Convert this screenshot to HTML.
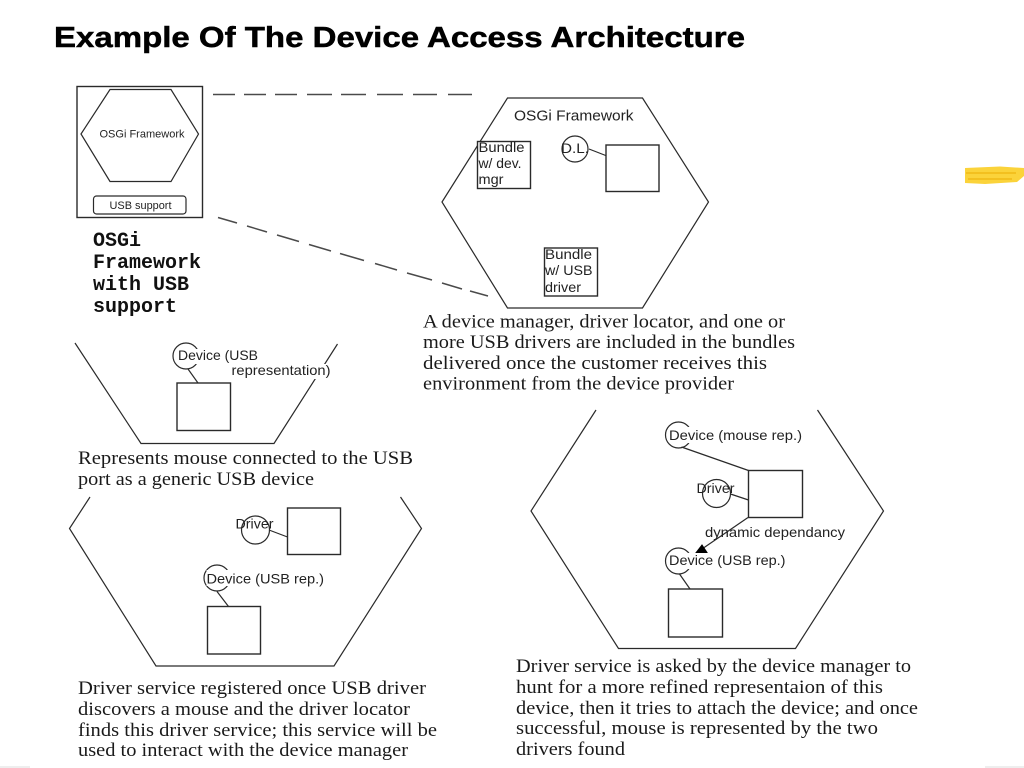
<!DOCTYPE html>
<html>
<head>
<meta charset="utf-8">
<title>Example Of The Device Access Architecture</title>
<style>
html,body{margin:0;padding:0;background:#fff;width:1024px;height:768px;overflow:hidden}
svg{display:block}
.l{fill:none;stroke:#2a2a2a;stroke-width:1.2}
.b{fill:#fff;stroke:#2a2a2a;stroke-width:1.4}
.d{fill:none;stroke:#4a4a4a;stroke-width:1.5}
.s{font-family:"Liberation Sans",Arial,sans-serif;font-size:14px;fill:#222}
.t{font-family:"Liberation Serif","Times New Roman",serif;font-size:18.5px;fill:#1a1a1a}
.m{font-family:"Liberation Mono","DejaVu Sans Mono",monospace;font-size:20px;font-weight:bold;fill:#111}
</style>
</head>
<body>
<svg width="1024" height="768" viewBox="0 0 1024 768" xmlns="http://www.w3.org/2000/svg">
<rect width="1024" height="768" fill="#fff"/>

<text x="54" y="47" font-family="'Liberation Sans',Arial,sans-serif" font-weight="bold" font-size="29px" fill="#000" stroke="#000" stroke-width="0.5" textLength="691" lengthAdjust="spacingAndGlyphs">Example Of The Device Access Architecture</text>

<!-- highlight -->
<path d="M965 168 L1000 166.5 L1024 168 L1024 176 L1017 182 L985 184 L965 183 Z" fill="#fbd33a"/>
<rect x="966" y="172" width="50" height="2" fill="#f3c01f"/>
<rect x="968" y="178" width="44" height="2" fill="#f3c01f"/>
<rect x="0" y="766" width="30" height="2" fill="#eee"/>
<rect x="985" y="766" width="39" height="2" fill="#eee"/>

<!-- small framework box -->
<rect x="77" y="86.5" width="125.5" height="131" class="b"/>
<path d="M81 134 L110 89.5 L171 89.5 L198.5 134 L171 181.5 L110 181.5 Z" class="l"/>
<rect x="93.5" y="196" width="92.5" height="18" rx="3" class="l"/>
<text x="99.5" y="137.5" class="s" style="font-size:11px" textLength="85" lengthAdjust="spacingAndGlyphs">OSGi Framework</text>
<text x="109.5" y="209" class="s" style="font-size:11px" textLength="62" lengthAdjust="spacingAndGlyphs">USB support</text>

<text x="93" y="246" class="m">OSGi</text>
<text x="93" y="268" class="m">Framework</text>
<text x="93" y="290" class="m">with USB</text>
<text x="93" y="312" class="m">support</text>

<!-- dashes -->
<path class="d" d="M213 94.5H235M244 94.5H266M275 94.5H297M307 94.5H332M341 94.5H366M377 94.5H403M413 94.5H437M448 94.5H472"/>
<path class="d" d="M218 217.5L237 223M247 226L267 232M277 235L299 241.5M309 244.5L331 251M340 253.5L364 260.5M375 263.5L397 270M407 273L432 280M442 283L462 289M470 291L488 296"/>

<!-- big hexagon -->
<path d="M442 202 L507.5 98 L642.5 98 L708.5 202 L642.5 308 L507.5 308 Z" class="l"/>
<text x="514" y="120.5" class="s" style="font-size:14.5px" textLength="119.5" lengthAdjust="spacingAndGlyphs">OSGi Framework</text>
<rect x="477.5" y="141.5" width="53" height="47" class="b"/>
<text x="478.5" y="152" class="s" textLength="46" lengthAdjust="spacingAndGlyphs">Bundle</text>
<text x="478.5" y="168" class="s" textLength="43" lengthAdjust="spacingAndGlyphs">w/ dev.</text>
<text x="478.5" y="184" class="s" textLength="25" lengthAdjust="spacingAndGlyphs">mgr</text>
<circle cx="575" cy="149" r="13" class="l"/>
<path d="M589 149 L607 156" class="l"/>
<text x="561" y="153" class="s" textLength="28" lengthAdjust="spacingAndGlyphs">D.L.</text>
<rect x="606" y="145" width="53" height="46.5" class="b"/>
<rect x="544.5" y="248" width="53" height="48" class="b"/>
<text x="545" y="259" class="s" textLength="47" lengthAdjust="spacingAndGlyphs">Bundle</text>
<text x="545" y="275" class="s" textLength="47.5" lengthAdjust="spacingAndGlyphs">w/ USB</text>
<text x="545" y="292" class="s" textLength="36" lengthAdjust="spacingAndGlyphs">driver</text>

<text x="423" y="327.5" class="t" textLength="362" lengthAdjust="spacingAndGlyphs">A device manager, driver locator, and one or</text>
<text x="423" y="348" class="t" textLength="372" lengthAdjust="spacingAndGlyphs">more USB drivers are included in the bundles</text>
<text x="423" y="369" class="t" textLength="344" lengthAdjust="spacingAndGlyphs">delivered once the customer receives this</text>
<text x="423" y="389.5" class="t" textLength="311" lengthAdjust="spacingAndGlyphs">environment from the device provider</text>

<!-- trapezoid -->
<path d="M75 343 L141 443.5 L274 443.5 L337.5 344" class="l"/>
<circle cx="186" cy="356" r="13" class="l"/>
<rect x="178" y="349" width="80" height="15" fill="#fff"/>
<rect x="231" y="364" width="100" height="15" fill="#fff"/>
<path d="M188 369 L198 383" class="l"/>
<rect x="177" y="383" width="53.5" height="47.5" class="b"/>
<text x="178" y="360" class="s" textLength="80" lengthAdjust="spacingAndGlyphs">Device (USB</text>
<text x="231.5" y="375" class="s" textLength="99" lengthAdjust="spacingAndGlyphs">representation)</text>

<text x="78" y="464" class="t" textLength="335" lengthAdjust="spacingAndGlyphs">Represents mouse connected to the USB</text>
<text x="78" y="485" class="t" textLength="236" lengthAdjust="spacingAndGlyphs">port as a generic USB device</text>

<!-- lower left -->
<path d="M90 497 L69.5 528.5 L156 666 L334 666 L421.5 528.5 L400.5 497" class="l"/>
<circle cx="255.5" cy="530" r="14" class="l"/>
<path d="M269 530 L287.5 537" class="l"/>
<rect x="287.5" y="508" width="53" height="46.5" class="b"/>
<text x="235.5" y="528.5" class="s" textLength="38" lengthAdjust="spacingAndGlyphs">Driver</text>
<circle cx="217" cy="578" r="13" class="l"/>
<rect x="206.5" y="570" width="118" height="16" fill="#fff"/>
<path d="M217 591.5 L228.5 606.5" class="l"/>
<rect x="207.5" y="606.5" width="53" height="47.5" class="b"/>
<text x="206.5" y="583.5" class="s" textLength="117.5" lengthAdjust="spacingAndGlyphs">Device (USB rep.)</text>

<text x="78" y="694" class="t" textLength="348" lengthAdjust="spacingAndGlyphs">Driver service registered once USB driver</text>
<text x="78" y="715" class="t" textLength="332" lengthAdjust="spacingAndGlyphs">discovers a mouse and the driver locator</text>
<text x="78" y="736" class="t" textLength="359" lengthAdjust="spacingAndGlyphs">finds this driver service; this service will be</text>
<text x="78" y="756" class="t" textLength="330" lengthAdjust="spacingAndGlyphs">used to interact with the device manager</text>

<!-- lower right -->
<path d="M596 410 L531 511 L618.5 648.5 L795.5 648.5 L883.5 511 L817.5 410" class="l"/>
<circle cx="678.5" cy="435" r="13" class="l"/>
<rect x="669" y="427" width="133" height="16" fill="#fff"/>
<path d="M681.5 447 L748.5 470.5" class="l"/>
<circle cx="716.5" cy="493.5" r="14" class="l"/>
<path d="M730.5 494 L748.5 500" class="l"/>
<rect x="748.5" y="470.5" width="54" height="47" class="b"/>
<path d="M748 517.5 L702 549" class="l"/>
<path d="M695 554 L702 545 L707 552.5 Z" fill="#000" stroke="#000" stroke-width="1"/>
<text x="669" y="440" class="s" textLength="133" lengthAdjust="spacingAndGlyphs">Device (mouse rep.)</text>
<text x="696.5" y="493" class="s" textLength="38" lengthAdjust="spacingAndGlyphs">Driver</text>
<text x="705" y="537" class="s" textLength="140" lengthAdjust="spacingAndGlyphs">dynamic dependancy</text>
<circle cx="678.5" cy="561" r="13" class="l"/>
<rect x="669" y="553" width="117" height="16" fill="#fff"/>
<path d="M679.5 574 L690 589" class="l"/>
<rect x="668.5" y="589" width="54" height="48" class="b"/>
<text x="669" y="565" class="s" textLength="116.5" lengthAdjust="spacingAndGlyphs">Device (USB rep.)</text>

<text x="516" y="672" class="t" textLength="395" lengthAdjust="spacingAndGlyphs">Driver service is asked by the device manager to</text>
<text x="516" y="693" class="t" textLength="367" lengthAdjust="spacingAndGlyphs">hunt for a more refined representaion of this</text>
<text x="516" y="714" class="t" textLength="402" lengthAdjust="spacingAndGlyphs">device, then it tries to attach the device; and once</text>
<text x="516" y="734" class="t" textLength="362" lengthAdjust="spacingAndGlyphs">successful, mouse is represented by the two</text>
<text x="516" y="755" class="t" textLength="109" lengthAdjust="spacingAndGlyphs">drivers found</text>
</svg>
</body>
</html>
